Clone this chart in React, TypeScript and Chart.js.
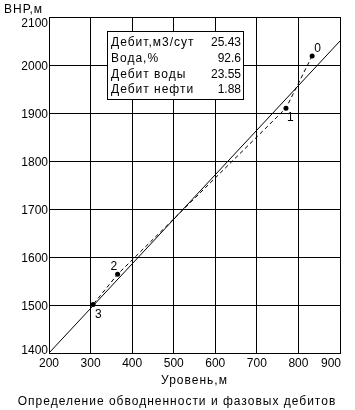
import React, { useEffect, useRef } from 'react';
import { Chart, registerables } from 'chart.js';

Chart.register(...registerables);

// ---- data ----
const pointNames = ['0', '1', '2', '3'];
const levelValues = [833, 770, 365, 306];
const vnrValues = [2019, 1910, 1564, 1501];
const fitLevel = [200, 900];
const fitVnr = [1400, 2050];
const xTickValues = [200, 300, 400, 500, 600, 700, 800, 900];
const yTickValues = [1400, 1500, 1600, 1700, 1800, 1900, 2000, 2100];
const infoLabels = ['Дебит,м3/сут', 'Вода,%', 'Дебит воды', 'Дебит нефти'];
const infoValues = ['25.43', '92.6', '23.55', '1.88'];
const xTitle = 'Уровень,м';
const yTitle = 'ВНР,м';
const chartTitle = 'Определение обводненности и фазовых дебитов';

const FONT = '12px "Liberation Sans", Arial, sans-serif';
const labelOffsets = [
  { dx: 2, dy: -4 },
  { dx: 1, dy: 13 },
  { dx: -7, dy: -4 },
  { dx: 2, dy: 13 },
];

const textPlugin = {
  id: 'textPlugin',
  afterDraw(chart: any) {
    const ctx = chart.ctx as CanvasRenderingContext2D;
    const xs = chart.scales.x;
    const ys = chart.scales.y;
    const area = chart.chartArea;
    ctx.save();
    ctx.fillStyle = '#000';
    ctx.font = FONT;
    (ctx as any).letterSpacing = '0px';

    // y tick labels
    ctx.textAlign = 'right';
    ctx.textBaseline = 'alphabetic';
    yTickValues.forEach((v, i) => {
      const p = ys.getPixelForValue(v);
      let off = 4.5;
      if (i === yTickValues.length - 1) off = 10;
      if (i === 0) off = 1;
      ctx.fillText(String(v), area.left - 1, p + off);
    });

    // x tick labels
    xTickValues.forEach((v, i) => {
      const p = xs.getPixelForValue(v);
      ctx.textAlign = i === xTickValues.length - 1 ? 'right' : 'center';
      ctx.fillText(String(v), i === xTickValues.length - 1 ? p + 1 : p, area.bottom + 14);
    });

    // point labels
    ctx.textAlign = 'left';
    pointNames.forEach((n, i) => {
      const px = xs.getPixelForValue(levelValues[i]);
      const py = ys.getPixelForValue(vnrValues[i]);
      const o = labelOffsets[i];
      ctx.fillText(n, px + o.dx, py + o.dy);
    });

    // info box
    const bx = 107.5, by = 31.5, bw = 136, bh = 68;
    ctx.fillStyle = '#fff';
    ctx.fillRect(bx, by, bw, bh);
    ctx.strokeStyle = '#000';
    ctx.lineWidth = 1;
    ctx.strokeRect(bx, by, bw, bh);
    ctx.fillStyle = '#000';
    infoLabels.forEach((t, i) => {
      const y = 46 + 15.8 * i;
      (ctx as any).letterSpacing = '1px';
      ctx.textAlign = 'left';
      ctx.fillText(t, 111, y);
      (ctx as any).letterSpacing = '0px';
      ctx.textAlign = 'right';
      ctx.fillText(infoValues[i], 241, y);
    });

    // titles
    (ctx as any).letterSpacing = '1px';
    ctx.textAlign = 'left';
    ctx.fillText(yTitle, 4, 13);
    ctx.textAlign = 'center';
    ctx.fillText(xTitle, (area.left + area.right) / 2, 384);
    ctx.fillText(chartTitle, 177, 405);
    ctx.restore();
  },
};

export default function App() {
  const ref = useRef<HTMLCanvasElement | null>(null);
  useEffect(() => {
    if (!ref.current) return;
    const chart = new Chart(ref.current, {
      type: 'scatter',
      data: {
        datasets: [
          {
            label: 'fit',
            data: fitLevel.map((x, i) => ({ x, y: fitVnr[i] })),
            showLine: true,
            borderColor: '#000',
            borderWidth: 1,
            pointRadius: 0,
            fill: false,
          },
          {
            label: 'points',
            data: levelValues.map((x, i) => ({ x, y: vnrValues[i] })),
            showLine: true,
            borderColor: '#000',
            borderWidth: 1,
            borderDash: [4, 3],
            pointRadius: 2.5,
            pointBackgroundColor: '#000',
            pointBorderColor: '#000',
            pointBorderWidth: 0,
            fill: false,
          },
        ],
      },
      options: {
        responsive: false,
        animation: false,
        devicePixelRatio: 1,
        layout: { padding: { left: 49, top: 17, right: 15, bottom: 57 } },
        plugins: { legend: { display: false }, tooltip: { enabled: false }, title: { display: false } },
        scales: {
          x: {
            type: 'linear',
            min: 200,
            max: 900,
            ticks: { display: false, stepSize: 100 },
            grid: { color: '#000', lineWidth: 1, drawTicks: false },
            border: { display: true, color: '#000', width: 1 },
            afterFit: (s: any) => { s.height = 0; },
          },
          y: {
            type: 'linear',
            min: 1400,
            max: 2100,
            ticks: { display: false, stepSize: 100 },
            grid: { color: '#000', lineWidth: 1, drawTicks: false },
            border: { display: true, color: '#000', width: 1 },
            afterFit: (s: any) => { s.width = 0; },
          },
        },
      },
      plugins: [textPlugin],
    });
    return () => chart.destroy();
  }, []);
  return (
    <div style={{ position: 'fixed', left: 0, top: 0, width: 355, height: 410, background: '#fff' }}>
      <canvas ref={ref} width={355} height={410} style={{ display: 'block' }} />
    </div>
  );
}
